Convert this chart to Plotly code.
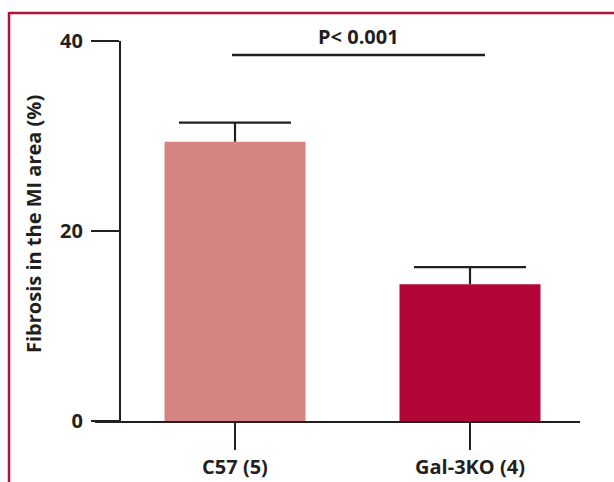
import plotly.graph_objects as go

categories = ["C57 (5)", "Gal-3KO (4)"]
fibrosis = [29.4, 14.4]
sem = [2.0, 1.8]
bar_colors = ["#D68481", "#B10637"]
y_ticks = [0, 20, 40]
y_title = "Fibrosis in the MI area (%)"
p_label = "P< 0.001"

W, H = 614, 482
L, R, T, B = 95, 580, 41, 421  # plot area in window pixels
INK = "#231f20"
FONT = "Open Sans"
FS = 20

def px_x(p):
    return (p - L) / (R - L)

def px_y(p):
    return (B - p) / (B - T)

x_idx = list(range(len(categories)))
unit = 235.0  # px between category centres (235 -> 470)
x0 = -(235 - L) / unit
x1 = x0 + (R - L) / unit

fig = go.Figure()
# bars with the upper error stem (no caps, so no line at the bar top)
fig.add_trace(go.Bar(
    x=x_idx, y=fibrosis, width=0.6,
    marker=dict(color=bar_colors, line=dict(width=0)),
    error_y=dict(type="data", symmetric=False, array=sem,
                 arrayminus=[0] * len(sem), color=INK, thickness=2.2, width=0),
    showlegend=False, hoverinfo="skip",
))
# error-bar caps at mean + SEM
fig.add_trace(go.Scatter(
    x=x_idx, y=[m + s for m, s in zip(fibrosis, sem)], mode="markers",
    marker=dict(symbol="line-ew", size=80, line=dict(color=INK, width=2.2)),
    showlegend=False, hoverinfo="skip", cliponaxis=False,
))

fig.update_layout(
    width=W, height=H,
    margin=dict(l=L, r=W - R, t=T, b=H - B, pad=0, autoexpand=False),
    paper_bgcolor="white", plot_bgcolor="white",
    font=dict(family=FONT, color=INK, size=FS),
    xaxis=dict(range=[x0, x1], tickvals=x_idx, ticktext=categories,
               automargin=False,
               showline=True, linecolor=INK, linewidth=2.2,
               ticks="outside", ticklen=27, tickwidth=2.2, tickcolor=INK,
               showgrid=False, zeroline=False,
               tickfont=dict(family=FONT, size=FS, color=INK, weight="bold")),
    yaxis=dict(range=[0, 40], tickvals=y_ticks, anchor="free", position=px_x(120),
               automargin=False,
               showline=True, linecolor=INK, linewidth=2.2,
               ticks="outside", ticklen=28, tickwidth=2.2, tickcolor=INK,
               showgrid=False, zeroline=False, ticklabelstandoff=4,
               tickfont=dict(family=FONT, size=FS, color=INK, weight="bold")),
)

# y-axis title
fig.add_annotation(xref="paper", yref="paper", x=px_x(33), y=px_y(224),
                   text=y_title, textangle=-90, showarrow=False,
                   font=dict(family=FONT, size=FS, color=INK, weight="bold"),
                   xanchor="center", yanchor="middle")

# significance bar
fig.add_shape(type="line", xref="x", yref="paper",
              x0=(232 - 235) / unit, x1=(485 - 235) / unit,
              y0=px_y(55), y1=px_y(55), line=dict(color=INK, width=2.5))
fig.add_annotation(xref="x", yref="paper", x=(358 - 235) / unit, y=px_y(37),
                   text=p_label, showarrow=False, xanchor="center", yanchor="middle",
                   font=dict(family=FONT, size=FS, color=INK, weight="bold"))

# frame (top and left edges)
FRAME = "#B5103A"
fig.add_shape(type="line", xref="paper", yref="paper",
              x0=px_x(9), x1=px_x(620), y0=px_y(13), y1=px_y(13),
              line=dict(color=FRAME, width=2.5))
fig.add_shape(type="line", xref="paper", yref="paper",
              x0=px_x(9), x1=px_x(9), y0=px_y(12), y1=px_y(490),
              line=dict(color=FRAME, width=2.5))

fig.write_html("out.html",
               config={"displayModeBar": False},
               post_script="document.body.style.margin='0';"
                           "document.body.style.overflow='hidden';")
